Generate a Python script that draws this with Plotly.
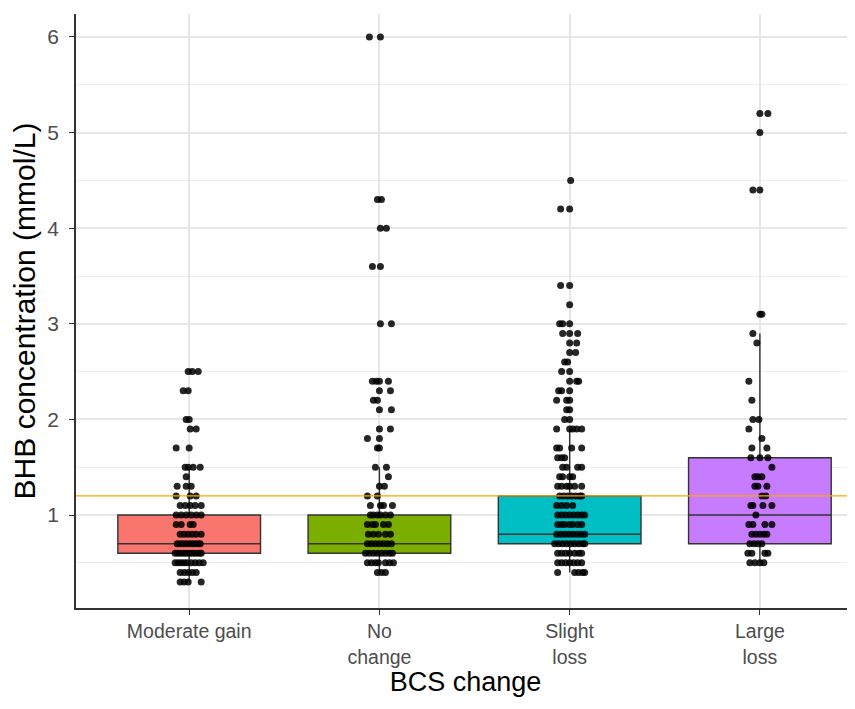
import plotly.graph_objects as go

CATEGORIES = ["Moderate gain", "No<br>change", "Slight<br>loss", "Large<br>loss"]
BOX_COLORS = ["#F8766D", "#7CAE00", "#00BFC4", "#C77CFF"]

# Box statistics
Q1 = [0.6, 0.6, 0.7, 0.7]
MEDIAN = [0.7, 0.7, 0.8, 1.0]
Q3 = [1.0, 1.0, 1.2, 1.6]
LOWER = [0.3, 0.4, 0.4, 0.5]
UPPER = [1.5, 1.5, 1.9, 2.9]

THRESHOLD = 1.2

# Observed BHB levels per group, and the jitter (px-ish) of each dot at that level
G1_LEVELS = [2.5, 2.3, 2.0, 1.9, 1.7, 1.5, 1.4, 1.3, 1.2, 1.1, 1.0, 0.9, 0.8, 0.7, 0.6, 0.5, 0.4, 0.3]
G1_JITTER = [[-1, 3, 9], [-6, -1], [-3, 0], [1, 7], [-13, 0], [-4, -1, 4, 11], [-3], [-12, -3, 2],
             [-13, 1, 7], [-9, -4, 1, 6, 12], [-13, -8, -3, 2, 7, 12], [-13, -8, 1, 4],
             [-9, -5, -1, 3, 7, 12], [-12, -9, -6, -3, 0, 3, 6, 9, 11],
             [-14, -11, -8, -5, -2, 1, 4, 7, 10, 12], [-14, -11, -8, -5, -2, 2, 6, 10, 14],
             [-9, -5, -1, 3, 7], [-9, -5, -1, 12]]

G2_LEVELS = [6.0, 4.3, 4.0, 3.6, 3.0, 2.4, 2.3, 2.2, 2.1, 1.9, 1.8, 1.7, 1.5, 1.4, 1.3, 1.2, 1.1, 1.0,
             0.9, 0.8, 0.7, 0.6, 0.5, 0.4]
G2_JITTER = [[-10, 1], [-2, 2], [1, 7], [-7, 1], [1, 12], [-7, -3, 0, 9], [0, 11], [-6, -2], [0, 12],
             [0, 11], [-12, 0], [-2, 0], [-4, 7], [9], [0, 5], [-12, -2], [-9, 1, 4, 13],
             [-9, -6, -2, 1, 6, 11], [-12, -7, -4, 4, 9], [-11, -6, -1, 6, 11],
             [-12, -8, -4, 0, 4, 8, 12], [-14, -10, -6, -2, 2, 6, 10, 13],
             [-12, -8, -4, -1, 6, 10, 14], [-2, 2, 6]]

G3_LEVELS = [4.5, 4.2, 3.4, 3.2, 3.0, 2.9, 2.8, 2.7, 2.6, 2.5, 2.4, 2.3, 2.2, 2.1, 2.0, 1.9, 1.7, 1.6,
             1.5, 1.4, 1.3, 1.2, 1.1, 1.0, 0.9, 0.8, 0.7, 0.6, 0.5, 0.4]
G3_JITTER = [[1], [-9, 0], [-9, 0], [0], [-10, -7, 0], [-7, 0, 8], [0, 7], [0, 6], [-5, -2], [-8, 0],
             [0, 7, 9], [-11, -8, 0], [-13, -3, 0], [-3, 0], [-5, 0], [-13, 0, 3, 7, 12],
             [-13, -10, 2, 12], [-12, -8, -5], [-7, -3, 8, 12], [-10, -7, 0, 3],
             [-12, -8, -3, 0, 5, 12], [-10, -6, -2, 2, 6, 10, 12], [-13, -8, -3, 3],
             [-12, -8, -4, 0, 4, 8, 12, 15], [-12, -8, -5, 0, 3, 8, 12],
             [-13, -9, -5, -1, 3, 7, 11, 15], [-15, -11, -7, -3, 1, 5, 9, 13, 15],
             [-12, -8, -4, 0, 5, 9, 12], [-12, -8, -4, 0, 4, 8, 12], [-12, 5, 9, 13, 15]]

G4_LEVELS = [5.2, 5.0, 4.4, 3.1, 2.9, 2.8, 2.4, 2.2, 2.0, 1.9, 1.8, 1.7, 1.6, 1.5, 1.4, 1.3, 1.2, 1.1,
             1.0, 0.9, 0.8, 0.7, 0.6, 0.5]
G4_JITTER = [[0, 8], [0], [-7, 0], [0, 2], [-7], [-3], [-11], [-8], [-7, -1], [-11], [2], [-8, 7],
             [-9, 0, 8], [12], [-5, -2, 2], [-5, -2, 7], [2, 6], [-9, -7, 3, 12], [-4],
             [-11, -7, 5, 12], [-8, -4, 0, 4, 7], [-10, -6, -2, 2], [-12, -8, 5, 8], [-10, -5, 0, 4]]

GROUPS = [(G1_LEVELS, G1_JITTER), (G2_LEVELS, G2_JITTER), (G3_LEVELS, G3_JITTER), (G4_LEVELS, G4_JITTER)]
JITTER_UNIT = 1 / 190.0

FONT = "Liberation Sans, Arial, sans-serif"

fig = go.Figure()

for i in range(4):
    fig.add_trace(go.Box(
        x=[i], q1=[Q1[i]], median=[MEDIAN[i]], q3=[Q3[i]],
        lowerfence=[LOWER[i]], upperfence=[UPPER[i]],
        width=0.75, whiskerwidth=0, boxpoints=False,
        fillcolor=BOX_COLORS[i], line=dict(color="#333333", width=1.4),
        showlegend=False, hoverinfo="skip",
    ))

for i, (levels, jitter) in enumerate(GROUPS):
    xs, ys = [], []
    for lv, offs in zip(levels, jitter):
        for o in offs:
            xs.append(i + o * JITTER_UNIT)
            ys.append(lv)
    fig.add_trace(go.Scatter(
        x=xs, y=ys, mode="markers",
        marker=dict(color="rgba(0,0,0,0.85)", size=7, line=dict(width=0)),
        showlegend=False, hoverinfo="skip",
    ))

fig.add_shape(type="line", xref="paper", x0=0, x1=1, yref="y", y0=THRESHOLD, y1=THRESHOLD,
              line=dict(color="#FFA500", width=1.3), layer="above")

fig.update_layout(
    width=847, height=701,
    margin=dict(l=68, r=0, t=6, b=101),
    plot_bgcolor="white", paper_bgcolor="white",
    boxmode="overlay",
    font=dict(family=FONT, color="black"),
    xaxis=dict(
        range=[-0.595, 3.5], tickvals=[0, 1, 2, 3], ticktext=CATEGORIES,
        showgrid=True, gridcolor="#E6E6E6", gridwidth=1.5, zeroline=False,
        showline=True, linecolor="#333333", linewidth=1.5,
        ticks="outside", ticklen=5, tickcolor="#333333", tickwidth=1.3,
        tickfont=dict(size=19.5, color="#4D4D4D", family=FONT),
        title=dict(text="BCS change", font=dict(size=27, color="black", family=FONT), standoff=6),
    ),
    yaxis=dict(
        range=[0.028, 6.24], tickvals=[1, 2, 3, 4, 5, 6], ticktext=["1", "2", "3", "4", "5", "6"],
        showgrid=True, gridcolor="#E6E6E6", gridwidth=1.5, zeroline=False,
        showline=True, linecolor="#333333", linewidth=1.5,
        ticks="outside", ticklen=5, tickcolor="#333333", tickwidth=1.3,
        ticklabelstandoff=6,
        tickfont=dict(size=21, color="#4D4D4D", family=FONT),
        minor=dict(tickvals=[0.5, 1.5, 2.5, 3.5, 4.5, 5.5], showgrid=True,
                   gridcolor="#EDEDED", gridwidth=1.1, ticks=""),
        title=dict(text="BHB concentration (mmol/L)", font=dict(size=30, color="black", family=FONT),
                   standoff=4),
    ),
)

fig.write_html("out.html")
